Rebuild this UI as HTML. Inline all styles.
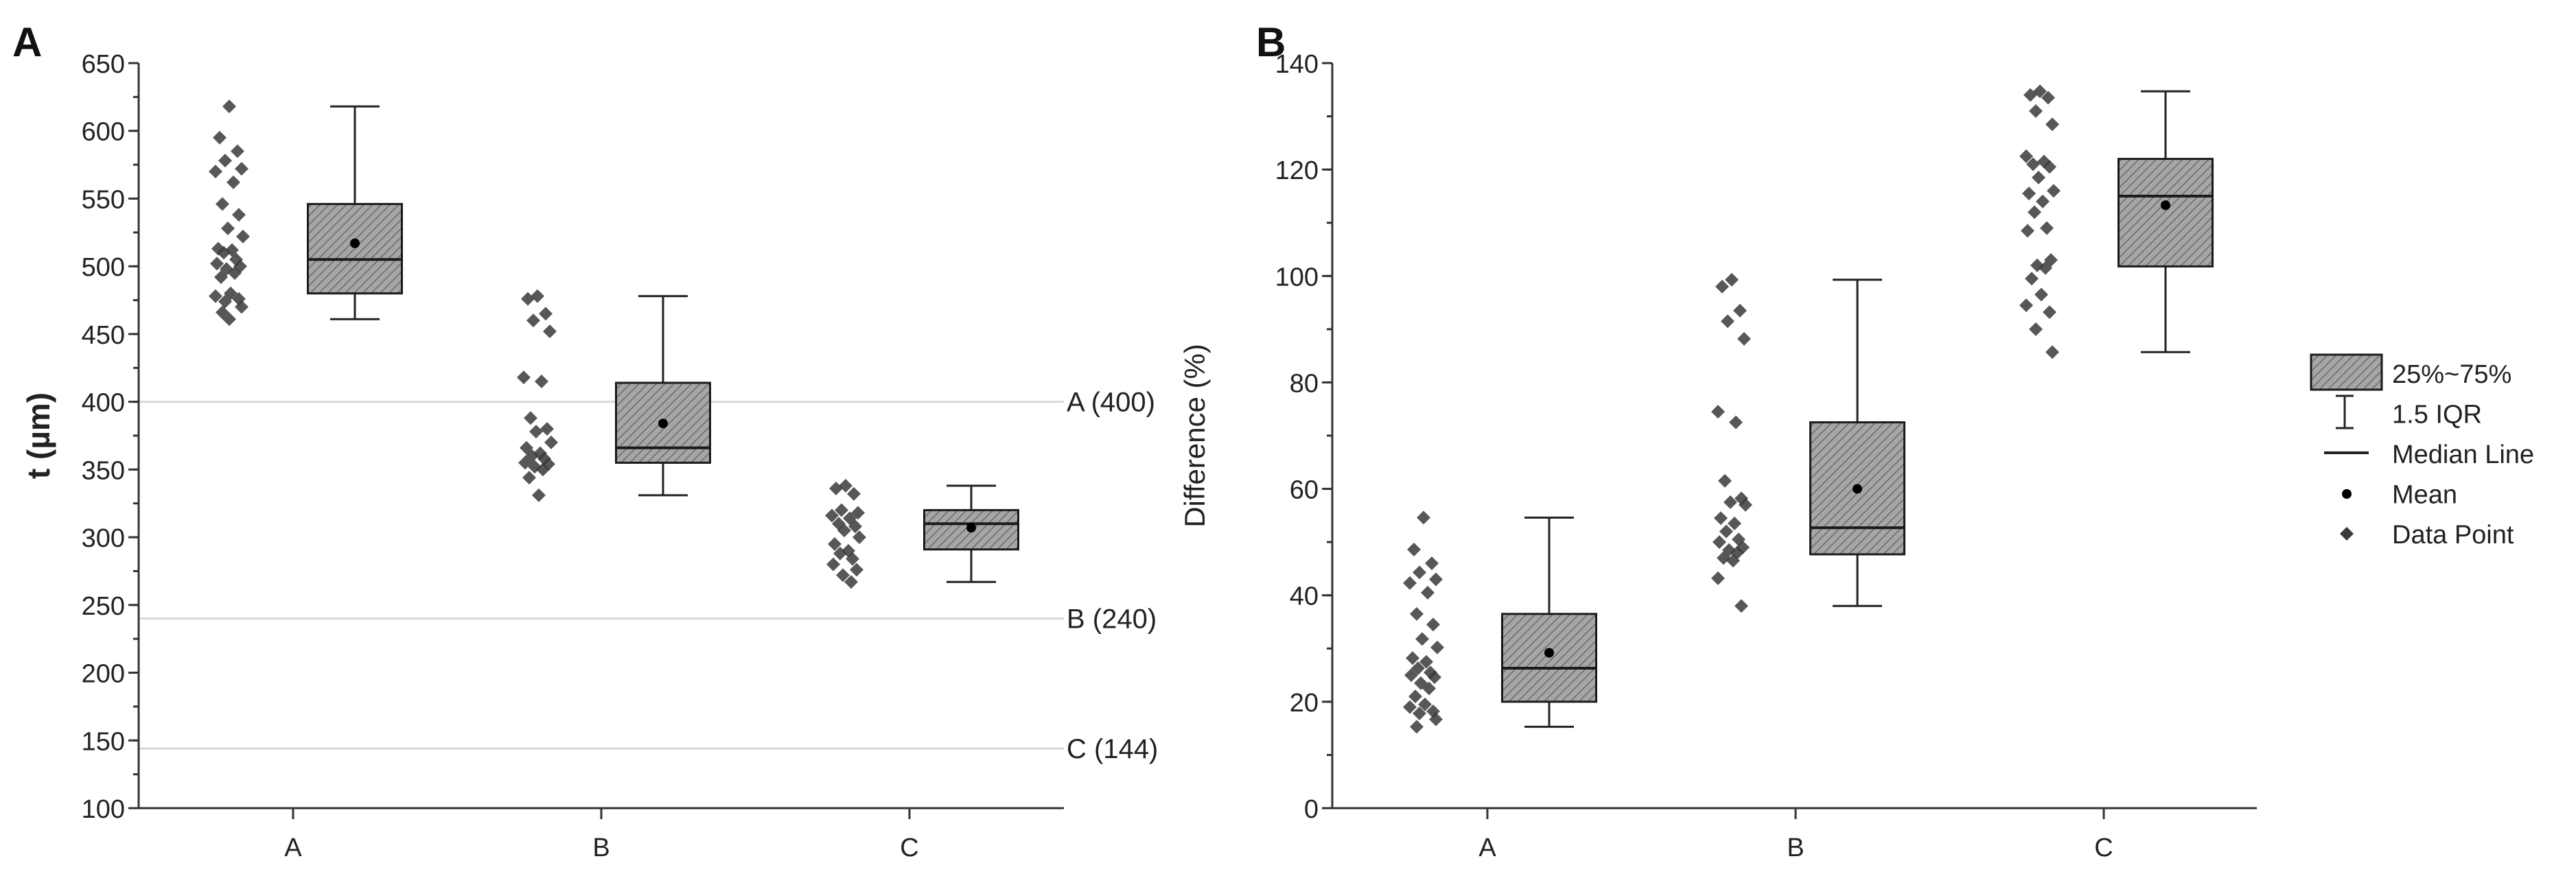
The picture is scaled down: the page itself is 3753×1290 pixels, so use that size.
<!DOCTYPE html>
<html><head><meta charset="utf-8">
<style>
html,body{margin:0;padding:0;background:#fff;}
svg{display:block;font-family:"Liberation Sans",Arial,sans-serif;}
</style></head>
<body>
<svg id="chart" width="3753" height="1290" viewBox="0 0 3753 1290" xmlns="http://www.w3.org/2000/svg">
<defs>
<pattern id="hatch" patternUnits="userSpaceOnUse" width="9" height="9" patternTransform="rotate(45)">
<rect width="9" height="9" fill="#a6a6a6"/>
<line x1="0" y1="0" x2="0" y2="9" stroke="#6a6a6a" stroke-width="3"/>
</pattern>
</defs>
<g id="panelA"></g>
<g id="panelB"></g>
<g id="legend"></g>
</svg>
<script>
const categories = ["A","B","C"];
// Panel A (t, µm)
const aPoints = [
 [618,595,585,578,572,570,562,546,538,528,522,513,512,510,505,502,500,498,495,492,480,478,476,474,470,466,461],
 [478,476,465,460,452,418,415,388,380,378,370,366,362,360,358,355,354,352,350,344,331],
 [338,336,332,320,318,316,314,310,308,305,300,295,290,288,284,280,276,272,267]
];
const aQ1 = [480,355,291];
const aMedian = [505,366,310];
const aQ3 = [546,414,320];
const aMean = [517,384,307];
const aWhiskLow = [461,331,267];
const aWhiskHigh = [618,478,338];
const aTicks = [100,150,200,250,300,350,400,450,500,550,600,650];
const refValues = [400,240,144];
const refLabels = ["A (400)","B (240)","C (144)"];
// Panel B (Difference %)
const bPoints = [
 [54.6,48.6,46,44.3,43,42.3,40.5,36.5,34.5,31.8,30.2,28.2,27.5,26.3,25.5,25,24.6,23.5,22.5,21,19.5,19,18.2,17.8,16.7,15.3],
 [99.3,98,93.5,91.5,88.2,74.5,72.5,61.5,58.2,57.5,57,54.5,53.5,52,50.5,50,49,48.5,48,47,46.5,43.2,38],
 [134.7,134,133.5,131,128.5,122.5,121.5,121,120.5,118.5,116,115.5,114,112,109,108.5,103,102,101.5,99.5,96.5,94.5,93.2,90,85.7]
];
const bQ1 = [20,47.7,101.8];
const bMedian = [26.3,52.7,115];
const bQ3 = [36.5,72.5,122];
const bMean = [29.2,60,113.3];
const bWhiskLow = [15.3,38,85.7];
const bWhiskHigh = [54.6,99.3,134.7];
const bTicks = [0,20,40,60,80,100,120,140];

const NS = "http://www.w3.org/2000/svg";
function mk(parent, tag, attrs, text){
  const e = document.createElementNS(NS, tag);
  for (const k in attrs) e.setAttribute(k, attrs[k]);
  if (text !== undefined) e.textContent = text;
  parent.appendChild(e);
  return e;
}
const jit = [0,-14,12,-6,18,-20,6,-10,14,-2,20,-16,4,-8,10,-18,16,-4,8,-12,2,-20,14,-6,18,-10,0];

function drawPanel(g, o){
  const {x0,x1,y0,y1,vmin,vmax,ticks,minorStep,pts,q1,med,q3,mean,wl,wh,tickX,letter,letterX,title,titleX} = o;
  const ys = v => y1 - (v - vmin)/(vmax - vmin)*(y1 - y0);
  const xs = i => tickX + i*449;
  if (o.refs) {
    o.refs.forEach((r,i)=>{
      let l = mk(g,"line",{x1:x0,x2:x1,y1:ys(r),y2:ys(r),stroke:"#d8d8d8","stroke-width":3});
      
      
      let t = mk(g,"text",{x:x1+4,y:ys(r)+14,"font-size":40,fill:"#222"},o.refLabels[i]);
      
      
    });
  }
  for (let v=vmin; v<=vmax+1e-9; v+=minorStep){
    let l = mk(g,"line",{x1:x0-8,x2:x0,y1:ys(v),y2:ys(v),stroke:"#333","stroke-width":3});
    
    
  }
  ticks.forEach(v=>{
    let l = mk(g,"line",{x1:x0-15,x2:x0,y1:ys(v),y2:ys(v),stroke:"#333","stroke-width":3});
    
    
    let t = mk(g,"text",{x:x0-20,y:ys(v)+14,"font-size":38,"text-anchor":"end",fill:"#222"},String(v));
    
    
  });
  let ax = mk(g,"line",{x1:x0,x2:x0,y1:y0,y2:y1+1.5,stroke:"#333","stroke-width":3});
  
  
  let axx = mk(g,"line",{x1:x0-1.5,x2:x1,y1:y1,y2:y1,stroke:"#333","stroke-width":3});
  
  
  categories.forEach((c,i)=>{
    let l = mk(g,"line",{x1:xs(i),x2:xs(i),y1:y1,y2:y1+16,stroke:"#333","stroke-width":3});
    
    
    let t = mk(g,"text",{x:xs(i),y:y1+70,"font-size":38,"text-anchor":"middle",fill:"#222"},c);
    
    
    const sc = xs(i) - 93;
    pts[i].forEach((v,k)=>{
      const px = sc + jit[k % jit.length], py = ys(v), s = 10;
      let d = mk(g,"polygon",{points:`${px},${py-s} ${px+s},${py} ${px},${py+s} ${px-s},${py}`,fill:"#3a3a3a","fill-opacity":0.85});
      
      
    });
    const bc = xs(i) + 90, bw = 137;
    let w1 = mk(g,"line",{x1:bc,x2:bc,y1:ys(wh[i]),y2:ys(q3[i]),stroke:"#222","stroke-width":3});
    
    
    let w2 = mk(g,"line",{x1:bc,x2:bc,y1:ys(q1[i]),y2:ys(wl[i]),stroke:"#222","stroke-width":3});
    
    
    [wh[i],wl[i]].forEach(v=>{
      let cap = mk(g,"line",{x1:bc-36,x2:bc+36,y1:ys(v),y2:ys(v),stroke:"#222","stroke-width":3});
      
      
    });
    let box = mk(g,"rect",{x:bc-bw/2,y:ys(q3[i]),width:bw,height:ys(q1[i])-ys(q3[i]),fill:"url(#hatch)",stroke:"#1a1a1a","stroke-width":3});
    
    
    let m = mk(g,"line",{x1:bc-bw/2,x2:bc+bw/2,y1:ys(med[i]),y2:ys(med[i]),stroke:"#1a1a1a","stroke-width":4});
    
    
    let mn = mk(g,"circle",{cx:bc,cy:ys(mean[i]),r:7,fill:"#000"});
    
    
  });
  let L = mk(g,"text",{x:letterX,y:82,"font-size":60,"font-weight":"bold",fill:"#111"},letter);
  
  
  const ty = (y0+y1)/2;
  let T = mk(g,"text",{x:titleX,y:ty,"font-size":o.titleSize,"font-weight":o.titleWeight,"text-anchor":"middle",fill:"#222",transform:`rotate(-90 ${titleX} ${ty})`},title);
  
  
}

drawPanel(document.getElementById('panelA'),{
  x0:202,x1:1550,y0:92,y1:1178,vmin:100,vmax:650,ticks:aTicks,minorStep:25,
  pts:aPoints,q1:aQ1,med:aMedian,q3:aQ3,mean:aMean,wl:aWhiskLow,wh:aWhiskHigh,
  tickX:427,letter:"A",letterX:18,title:"t (\u00b5m)",titleX:72,titleSize:46,titleWeight:"bold",
  refs:refValues,refLabels:refLabels
});
drawPanel(document.getElementById('panelB'),{
  x0:1941,x1:3288,y0:92,y1:1178,vmin:0,vmax:140,ticks:bTicks,minorStep:10,
  pts:bPoints,q1:bQ1,med:bMedian,q3:bQ3,mean:bMean,wl:bWhiskLow,wh:bWhiskHigh,
  tickX:2167,letter:"B",letterX:1830,title:"Difference (%)",titleX:1755,titleSize:42,titleWeight:"normal"
});

const lg = document.getElementById('legend');
const legendLabels = ["25%~75%","1.5 IQR","Median Line","Mean","Data Point"];
let lb = mk(lg,"rect",{x:3367,y:517,width:103,height:51,fill:"url(#hatch)",stroke:"#1a1a1a","stroke-width":3});


let li1 = mk(lg,"path",{d:"M3403,577 H3429 M3416,577 V624 M3403,624 H3429",stroke:"#222","stroke-width":3,fill:"none"});


let li2 = mk(lg,"line",{x1:3386,x2:3451,y1:660,y2:660,stroke:"#222","stroke-width":4});


let li3 = mk(lg,"circle",{cx:3419,cy:720,r:7,fill:"#000"});


let li4 = mk(lg,"polygon",{points:"3419,768 3429,778 3419,788 3409,778",fill:"#3a3a3a"});


legendLabels.forEach((t,i)=>{
  let e = mk(lg,"text",{x:3485,y:558+i*58.5,"font-size":38,fill:"#222"},t);
  
  
});
</script>
</body></html>
